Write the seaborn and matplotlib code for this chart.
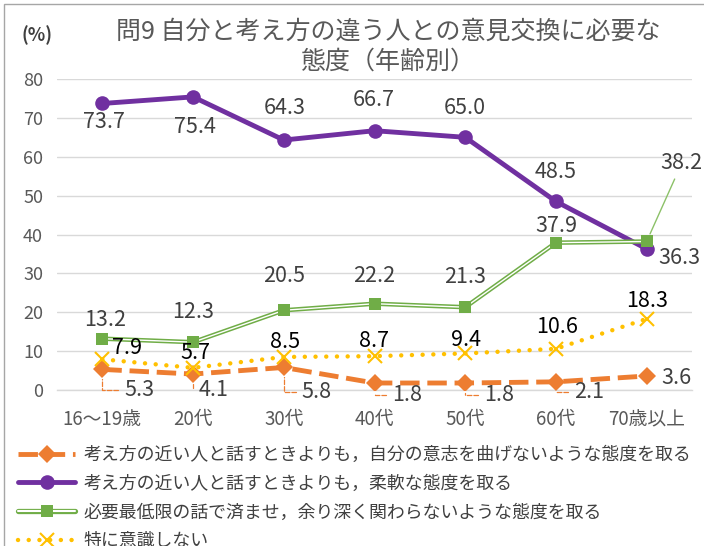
import matplotlib
matplotlib.use('Agg')
import matplotlib.pyplot as plt
import seaborn as sns
import numpy as np
from matplotlib.lines import Line2D
from matplotlib.legend_handler import HandlerTuple
from matplotlib.patches import Rectangle

categories = ['16〜19歳', '20代', '30代', '40代', '50代', '60代', '70歳以上']
series_names = [
    '考え方の近い人と話すときよりも，自分の意志を曲げないような態度を取る',
    '考え方の近い人と話すときよりも，柔軟な態度を取る',
    '必要最低限の話で済ませ，余り深く関わらないような態度を取る',
    '特に意識しない',
]
orange_vals = [5.3, 4.1, 5.8, 1.8, 1.8, 2.1, 3.6]
purple_vals = [73.7, 75.4, 64.3, 66.7, 65.0, 48.5, 36.3]
green_vals = [13.2, 12.3, 20.5, 22.2, 21.3, 37.9, 38.2]
yellow_vals = [7.9, 5.7, 8.5, 8.7, 9.4, 10.6, 18.3]
yticks = [0, 10, 20, 30, 40, 50, 60, 70, 80]

# label offsets in pixels (layout only)
orange_off = [(37, -21), (20, -16), (33, -25), (33, -12), (34, -12), (33, -10), (30, -2)]
purple_off = [(2, -19), (2, -30), (1, 32), (-1, 31), (0, 29), (0, 29), (33, -9)]
green_off = [(3, 19), (0, 30), (0, 34), (0, 28), (0, 30), (0, 17), (35, 78)]
yellow_off = [(25, 11), (2, 15), (1, 15), (-1, 15), (1, 13), (1, 22), (0, 18)]

C_OR = '#ED7D31'
C_PU = '#7030A0'
C_GR = '#70AD47'
C_YE = '#FFC000'
TXT = '#404040'

sns.set_theme(style='white')
plt.rcParams['font.family'] = ['Noto Sans CJK JP', 'DejaVu Sans']

fig = plt.figure(figsize=(7.04, 5.46), dpi=100)
ax = fig.add_axes([57 / 704, 1 - 390 / 546, (692 - 57) / 704, (390 - 79) / 546])

x = np.arange(len(categories))

or_ls = (0, (4, 1.6))
ye_ls = (0, (0.01, 2.4))

sns.lineplot(x=x, y=orange_vals, ax=ax, color=C_OR, lw=3.5, linestyle=or_ls,
             marker='D', markersize=9, markeredgewidth=0, errorbar=None, legend=False, zorder=3)
sns.lineplot(x=x, y=purple_vals, ax=ax, color=C_PU, lw=3.5,
             marker='o', markersize=10.5, markeredgewidth=0, errorbar=None, legend=False, zorder=4)
sns.lineplot(x=x, y=green_vals, ax=ax, color=C_GR, lw=3.2, errorbar=None, legend=False, zorder=5)
sns.lineplot(x=x, y=green_vals, ax=ax, color='white', lw=1.0, errorbar=None, legend=False, zorder=5)
sns.lineplot(x=x, y=green_vals, ax=ax, color=C_GR, lw=0, marker='s', markersize=8.5,
             markeredgewidth=0, errorbar=None, legend=False, zorder=5)
sns.lineplot(x=x, y=yellow_vals, ax=ax, color=C_YE, lw=3.2, linestyle=ye_ls,
             dash_capstyle='round', marker='x', markersize=10, markeredgewidth=1.5,
             markeredgecolor=C_YE, errorbar=None, legend=False, zorder=6)

ax.set_xlim(-0.5, len(categories) - 0.5)
ax.set_ylim(0, 80)
ax.set_yticks(yticks)
ax.set_yticklabels([str(v) for v in yticks])
ax.set_xticks(x)
ax.set_xticklabels(categories)
ax.tick_params(axis='y', length=0, pad=10, labelsize=13, labelcolor='#595959')
ax.tick_params(axis='x', length=0, pad=14, labelsize=13.5, labelcolor='#595959')
ax.set_xlabel('')
ax.set_ylabel('')
ax.yaxis.grid(True, color='#D9D9D9', lw=1)
ax.xaxis.grid(False)
ax.set_axisbelow(True)
for s in ['top', 'right', 'left']:
    ax.spines[s].set_visible(False)
ax.spines['bottom'].set_color('#D9D9D9')
ax.spines['bottom'].set_linewidth(1)

LFS = 15.5
for i, (v, off) in enumerate(zip(orange_vals, orange_off)):
    kw = {}
    if i < 6:
        kw['arrowprops'] = dict(arrowstyle='-', color=C_OR, lw=0.9, linestyle='--',
                                connectionstyle='angle,angleA=0,angleB=90,rad=0',
                                shrinkA=2, shrinkB=7)
    ax.annotate(f'{v:.1f}', xy=(x[i], v), xytext=off, textcoords='offset pixels',
                ha='center', va='center', fontsize=LFS, color=TXT, zorder=7, **kw)
for i, (v, off) in enumerate(zip(purple_vals, purple_off)):
    ax.annotate(f'{v:.1f}', xy=(x[i], v), xytext=off, textcoords='offset pixels',
                ha='center', va='center', fontsize=LFS, color=TXT, zorder=7)
for i, (v, off) in enumerate(zip(green_vals, green_off)):
    kw = {}
    if i == 6:
        kw['arrowprops'] = dict(arrowstyle='-', color='#8CC168', lw=1.0, shrinkA=1, shrinkB=6)
    ax.annotate(f'{v:.1f}', xy=(x[i], v), xytext=off, textcoords='offset pixels',
                ha='center', va='center', fontsize=LFS, color=TXT, zorder=7, **kw)
for i, (v, off) in enumerate(zip(yellow_vals, yellow_off)):
    ax.annotate(f'{v:.1f}', xy=(x[i], v), xytext=off, textcoords='offset pixels',
                ha='center', va='center', fontsize=LFS, color='black', zorder=7)

fig.text(388 / 704, 1 - 32 / 546, '問9 自分と考え方の違う人との意見交換に必要な',
         ha='center', va='center', fontsize=18, color='#595959')
fig.text(388 / 704, 1 - 62 / 546, '態度（年齢別）',
         ha='center', va='center', fontsize=18, color='#595959')
fig.text(37 / 704, 1 - 35 / 546, '(%)', ha='center', va='center', fontsize=13,
         fontweight='bold', color=TXT)

h_or = Line2D([], [], color=C_OR, lw=3.5, linestyle=or_ls, marker='D', markersize=9, markeredgewidth=0)
h_pu = Line2D([], [], color=C_PU, lw=3.5, marker='o', markersize=10.5, markeredgewidth=0)
h_gr = (Line2D([], [], color=C_GR, lw=3.8), Line2D([], [], color='white', lw=1.5),
        Line2D([], [], color=C_GR, lw=0, marker='s', markersize=9, markeredgewidth=0))
h_ye = Line2D([], [], color=C_YE, lw=3.2, linestyle=ye_ls, dash_capstyle='round',
              marker='x', markersize=10, markeredgewidth=1.5, markeredgecolor=C_YE)
leg = fig.legend([h_or, h_pu, h_gr, h_ye], series_names, loc='upper left',
                 bbox_to_anchor=(18 / 704, 1 - 446 / 546), frameon=False, fontsize=12.9,
                 handlelength=3.2, handletextpad=0.45, labelspacing=0.6,
                 borderaxespad=0, borderpad=0, numpoints=1,
                 handler_map={tuple: HandlerTuple(ndivide=1, pad=0)})
for t in leg.get_texts():
    t.set_color(TXT)

fig.add_artist(Rectangle((4 / 704, -0.1), 1.0, 1 - 4 / 546 + 0.1,
                         transform=fig.transFigure, fill=False, edgecolor='#A6A6A6', lw=1))

fig.savefig('out.png', dpi=100)
